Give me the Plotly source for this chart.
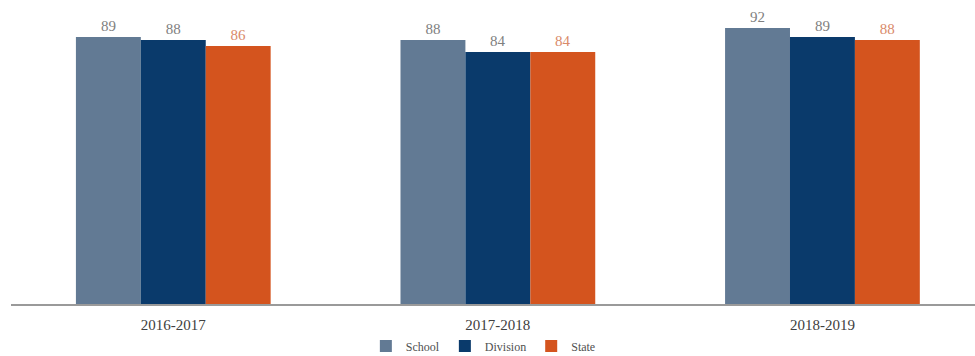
import plotly.graph_objects as go

years = ["2016-2017", "2017-2018", "2018-2019"]
school = [89, 88, 92]
division = [88, 84, 89]
state = [86, 84, 88]

series = [
    ("School", school, "#627A94", "#808080"),
    ("Division", division, "#0A3A6B", "#808080"),
    ("State", state, "#D4541E", "#D98A6A"),
]

SERIF = "Liberation Serif, Times New Roman, serif"

fig = go.Figure()
for name, vals, col, tcol in series:
    fig.add_trace(go.Bar(
        name=name, x=years, y=vals, marker=dict(color=col, line=dict(width=0)),
        text=[str(v) for v in vals], textposition="outside",
        textfont=dict(family=SERIF, size=15, color=tcol),
        outsidetextfont=dict(family=SERIF, size=15, color=tcol),
        cliponaxis=False,
    ))

fig.update_layout(
    width=975, height=356,
    margin=dict(l=11, r=0, t=4, b=52, autoexpand=False),
    barmode="group", bargap=0.4, bargroupgap=0,
    plot_bgcolor="white", paper_bgcolor="white",
    font=dict(family=SERIF, color="#404040"),
    showlegend=True,
    legend=dict(orientation="h", x=0.49, xanchor="center",
                yref="container", y=0.028, yanchor="middle",
                font=dict(size=12, color="#505050", family=SERIF),
                itemwidth=30, tracegroupgap=0),
)
fig.update_xaxes(range=[-0.5, 2.47], showline=True, linecolor="#9a9a9a", linewidth=2,
                 ticks="", ticklabelstandoff=6,
                 tickfont=dict(size=15, color="#404040", family=SERIF),
                 showgrid=False)
fig.update_yaxes(range=[0, 100], visible=False, showgrid=False)

fig.write_html("out.html")
